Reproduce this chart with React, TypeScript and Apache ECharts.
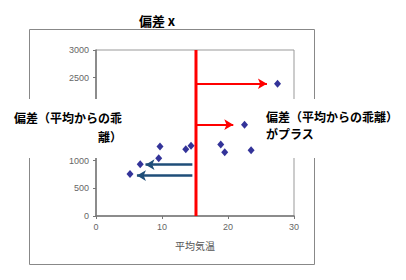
import React, { useEffect, useRef } from "react";
import * as echarts from "echarts";

// scatter data: [平均気温, y]
const pointsX = [27.5, 22.5, 18.9, 19.5, 23.5, 14.4, 13.6, 9.7, 9.5, 6.7, 5.15];
const pointsY = [2390, 1650, 1290, 1150, 1190, 1270, 1205, 1255, 1045, 935, 760];

const meanTemp = 15.15;
// arrows: [x start, x tip, y]
const redArrows = [
  [15.15, 25.9, 2390],
  [15.15, 20.8, 1650],
];
const blueArrows = [
  [14.6, 7.5, 928],
  [14.6, 6.2, 730],
];

const xTicks = { min: 0, max: 30, interval: 10 };
const yTicks = { min: 0, max: 3000, interval: 500 };

const title = "偏差 x";
const xName = "平均気温";
const leftLabel = "偏差（平均からの乖\n離）";
const rightLabel = "偏差（平均からの乖離）\nがプラス";

const CJK = '"Noto Sans CJK JP", sans-serif';
const LAT = '"Liberation Sans", Arial, "Noto Sans CJK JP", sans-serif';

export default function App() {
  const ref = useRef<HTMLDivElement>(null);
  useEffect(() => {
    document.body.style.margin = "0";
    const chart = echarts.init(ref.current!, null, { renderer: "svg" });
    const arrowLine = (arr: number[][]) =>
      arr.map((a) => [
        { coord: [a[0], a[2]], symbol: "none" },
        { coord: [a[1], a[2]], symbol: "arrow" },
      ]);
    chart.setOption({
      animation: false,
      backgroundColor: "#fff",
      grid: {
        left: 96,
        top: 50,
        right: 112,
        bottom: 64,
        show: true,
        borderColor: "#999",
        borderWidth: 1,
      },
      xAxis: {
        type: "value",
        ...xTicks,
        name: xName,
        nameLocation: "middle",
        nameGap: 24,
        nameTextStyle: { fontFamily: CJK, fontSize: 10, color: "#555" },
        axisLine: { show: true, lineStyle: { color: "#777", width: 1.5 } },
        axisTick: { show: true, length: 3, lineStyle: { color: "#777" } },
        axisLabel: { fontFamily: LAT, fontSize: 9, color: "#666", margin: 6 },
        splitLine: { show: false },
      },
      yAxis: {
        type: "value",
        ...yTicks,
        axisLine: { show: true, lineStyle: { color: "#777", width: 1.5 } },
        axisTick: { show: true, length: 3, lineStyle: { color: "#777" } },
        axisLabel: {
          fontFamily: LAT,
          fontSize: 9,
          color: "#666",
          margin: 7,
          formatter: (v: number) => String(v),
        },
        splitLine: { show: false },
      },
      series: [
        {
          type: "line",
          data: [
            [meanTemp, yTicks.min],
            [meanTemp, yTicks.max],
          ],
          symbol: "none",
          lineStyle: { color: "#ff0000", width: 3 },
          z: 2,
          markLine: {
            silent: true,
            symbolSize: [8, 9],
            lineStyle: { color: "#ff0000", width: 2, type: "solid" },
            itemStyle: { color: "#ff0000" },
            label: { show: false },
            data: arrowLine(redArrows),
          },
        },
        {
          type: "line",
          data: [],
          markLine: {
            silent: true,
            symbolSize: [8, 9],
            lineStyle: { color: "#1f4e79", width: 2.5, type: "solid" },
            itemStyle: { color: "#1f4e79" },
            label: { show: false },
            data: arrowLine(blueArrows),
          },
        },
        {
          type: "scatter",
          data: pointsX.map((x, i) => [x, pointsY[i]]),
          symbol: "diamond",
          symbolSize: [7, 8],
          itemStyle: { color: "#000080" },
          z: 5,
        },
      ],
      graphic: [
        {
          type: "rect",
          shape: { x: 29.5, y: 29.5, width: 285, height: 235 },
          style: { fill: "none", stroke: "#888", lineWidth: 1 },
          z: 1,
        },
        {
          type: "rect",
          shape: { x: 0, y: 99, width: 126, height: 59 },
          style: { fill: "#fff" },
          z: 100,
        },
        {
          type: "rect",
          shape: { x: 261, y: 99, width: 145, height: 59 },
          style: { fill: "#fff" },
          z: 100,
        },
        {
          type: "text",
          x: 157,
          y: 20,
          z: 101,
          style: {
            text: title,
            font: `bold 13px ${CJK}`,
            fill: "#000",
            textAlign: "center",
            textVerticalAlign: "middle",
          },
        },
        {
          type: "text",
          x: 122,
          y: 108,
          z: 101,
          style: {
            text: leftLabel,
            font: `bold 12px ${CJK}`,
            lineHeight: 19,
            fill: "#000",
            textAlign: "right",
          },
        },
        {
          type: "text",
          x: 266,
          y: 108,
          z: 101,
          style: {
            text: rightLabel,
            font: `bold 12px ${CJK}`,
            lineHeight: 17,
            fill: "#000",
            textAlign: "left",
          },
        },
      ],
    });
    return () => chart.dispose();
  }, []);
  return <div ref={ref} style={{ width: 406, height: 280 }} />;
}
